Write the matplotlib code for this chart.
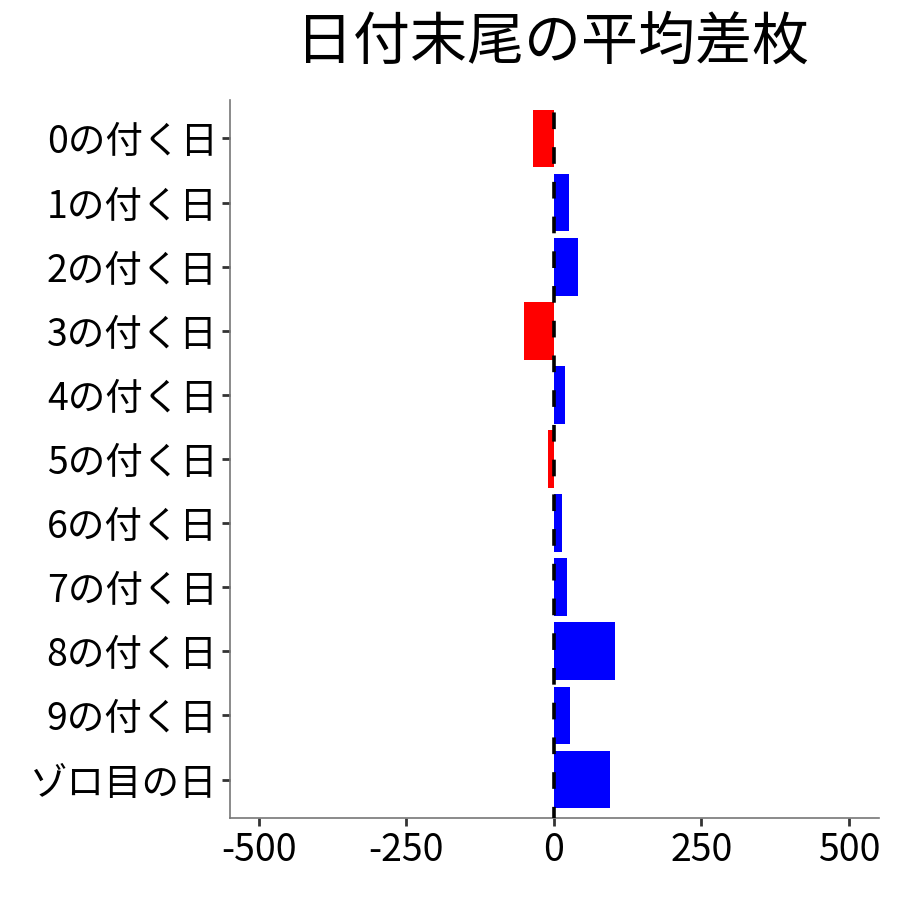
import matplotlib
matplotlib.use("Agg")
import matplotlib.pyplot as plt

plt.rcParams['font.family'] = ['Noto Sans CJK JP', 'DejaVu Sans']
plt.rcParams['lines.scale_dashes'] = False

# 日付末尾ごとの平均差枚
categories = ["0の付く日", "1の付く日", "2の付く日", "3の付く日", "4の付く日",
              "5の付く日", "6の付く日", "7の付く日", "8の付く日", "9の付く日",
              "ゾロ目の日"]
avg_diff = [-36, 25, 41, -51, 18, -10, 13, 22, 103, 27, 95]
xticks = [-500, -250, 0, 250, 500]

colors = ["#FF0000" if v < 0 else "#0000FF" for v in avg_diff]
pos = list(range(len(categories)))

fig = plt.figure(figsize=(9, 9), dpi=100)
ax = fig.add_axes([0.2556, 0.0911, 0.7211, 0.7978])

ax.barh(pos, avg_diff, height=0.9, color=colors, zorder=2)
ax.axvline(0, color="black", lw=2.6, ls=(4, (12, 13)), zorder=3)

ax.set_xlim(-549, 551)
ax.set_ylim(len(categories) - 0.4, -0.6)
ax.set_yticks(pos)
ax.set_yticklabels(categories)
ax.set_xticks(xticks)
ax.set_xticklabels([str(t) for t in xticks])

ax.tick_params(axis="both", labelsize=27, length=6, width=2, color="#333333",
               labelcolor="black", pad=3)

for side in ["top", "right"]:
    ax.spines[side].set_visible(False)
for side in ["left", "bottom"]:
    ax.spines[side].set_color("#777777")
    ax.spines[side].set_linewidth(1.2)

fig.suptitle("日付末尾の平均差枚", fontsize=41, x=0.614, y=0.985)

fig.savefig("out.png", dpi=100)
plt.close(fig)
